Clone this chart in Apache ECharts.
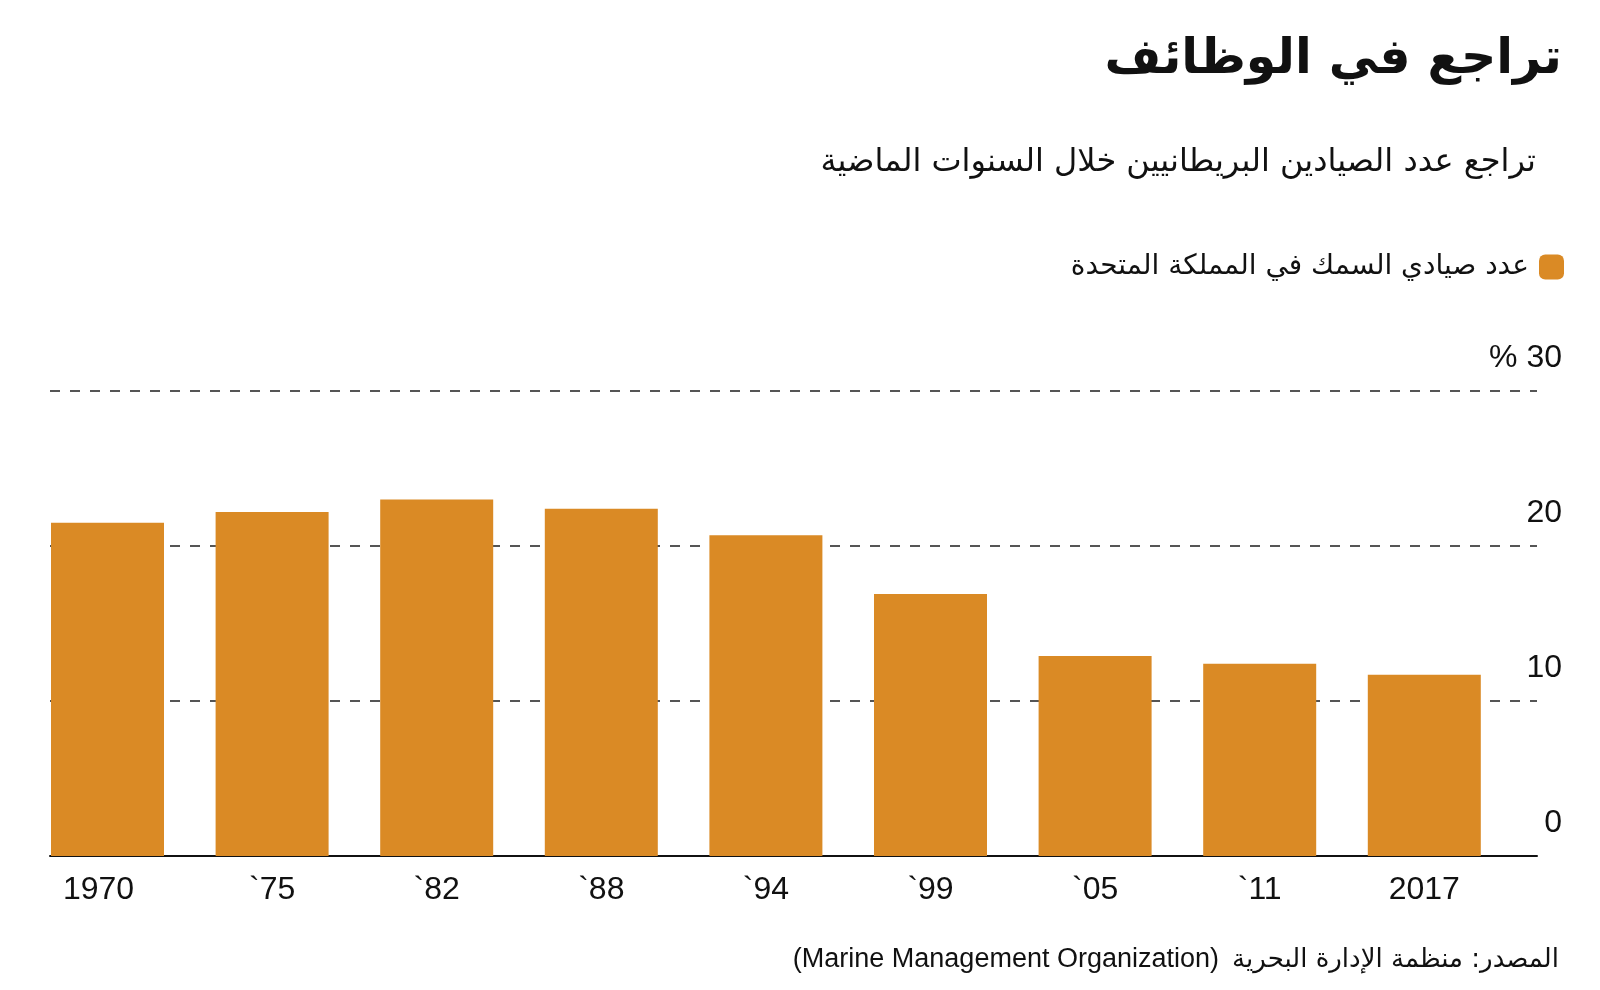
<!DOCTYPE html>
<html>
<head>
<meta charset="utf-8">
<script src="https://cdn.jsdelivr.net/npm/echarts@6/dist/echarts.min.js"></script>
<style>
  html, body { margin: 0; padding: 0; background: #ffffff; }
  #chart { width: 1600px; height: 990px; }
</style>
</head>
<body>
<div id="chart"></div>
<script>
// ---- data ----
const categories = ['1970', '`75', '`82', '`88', '`94', '`99', '`05', '`11', '2017'];
const fishermenShare = [21.5, 22.2, 23.0, 22.4, 20.7, 16.9, 12.9, 12.4, 11.7];
const yTicks = [0, 10, 20, 30];
const yTickLabels = ['0', '10', '20', '% 30'];

const titleText = 'تراجع في الوظائف';
const subtitleText = 'تراجع عدد الصيادين البريطانيين خلال السنوات الماضية';
const seriesName = 'عدد صيادي السمك في المملكة المتحدة';
const sourceArabic = 'المصدر: منظمة الإدارة البحرية';
const sourceEnglish = '(Marine Management Organization)';

const BAR_COLOR = '#DA8A25';
const TEXT_COLOR = '#111111';
const ARABIC_FONT = '"DejaVu Sans", sans-serif';
const LATIN_FONT = '"Liberation Sans", Arial, sans-serif';

const chart = echarts.init(document.getElementById('chart'), null, { renderer: 'canvas' });

const option = {
  backgroundColor: '#ffffff',
  animation: false,
  textStyle: { fontFamily: LATIN_FONT },
  graphic: [
    {
      type: 'text',
      style: {
        text: titleText, x: 1562, y: 60, align: 'right', verticalAlign: 'middle',
        fontFamily: ARABIC_FONT, fontWeight: 'bold', fontSize: 49, fill: TEXT_COLOR
      }
    },
    {
      type: 'text',
      style: {
        text: subtitleText, x: 1536, y: 163, align: 'right', verticalAlign: 'middle',
        fontFamily: ARABIC_FONT, fontSize: 32, fill: TEXT_COLOR
      }
    },
    {
      type: 'text',
      style: {
        text: sourceArabic, x: 1559, y: 960, align: 'right', verticalAlign: 'middle',
        fontFamily: ARABIC_FONT, fontSize: 26, fill: TEXT_COLOR
      }
    },
    {
      type: 'text',
      style: {
        text: sourceEnglish, x: 1219, y: 960, align: 'right', verticalAlign: 'middle',
        fontFamily: LATIN_FONT, fontSize: 27, fill: TEXT_COLOR
      }
    }
  ],
  legend: {
    show: true,
    right: 31,
    top: 248,
    align: 'right',
    itemWidth: 25,
    itemHeight: 25,
    icon: 'roundRect',
    textStyle: {
      fontFamily: ARABIC_FONT, fontSize: 28, color: TEXT_COLOR, padding: [0, 5, 0, 0]
    },
    data: [seriesName]
  },
  grid: [
    { left: 50, right: 63, top: 391, bottom: 134 },
    { left: 25.2, width: 1481.4, top: 391, bottom: 134 }
  ],
  xAxis: [
    {
      gridIndex: 0, type: 'category', data: categories,
      axisLine: { show: true, lineStyle: { color: TEXT_COLOR, width: 2 } },
      axisTick: { show: false }, axisLabel: { show: false }, splitLine: { show: false }
    },
    {
      gridIndex: 1, type: 'category', data: categories,
      axisLine: { show: false }, axisTick: { show: false },
      axisLabel: {
        interval: 0, hideOverlap: false,
        fontFamily: LATIN_FONT, fontSize: 32, color: TEXT_COLOR, margin: 18,
        formatter: function (v, i) {
          return i === 0 ? '{first|' + v + '}' : v;
        },
        rich: {
          first: { fontFamily: LATIN_FONT, fontSize: 32, color: TEXT_COLOR, padding: [0, 18, 0, 0] }
        }
      }
    }
  ],
  yAxis: [
    {
      gridIndex: 0, type: 'value', min: 0, max: 30, interval: 10, position: 'right',
      axisLine: { show: false }, axisTick: { show: false },
      splitLine: { show: true, lineStyle: { type: [10, 10], color: '#555555', width: 2 } },
      axisLabel: {
        fontFamily: LATIN_FONT, fontSize: 32, color: TEXT_COLOR,
        align: 'right', margin: 25, verticalAlign: 'bottom', lineHeight: 66,
        formatter: function (v) {
          const i = yTicks.indexOf(v);
          return i >= 0 ? yTickLabels[i] : String(v);
        }
      }
    },
    {
      gridIndex: 1, type: 'value', min: 0, max: 30, interval: 10, show: false,
      splitLine: { show: false }
    }
  ],
  series: [
    {
      name: seriesName,
      type: 'bar',
      xAxisIndex: 1,
      yAxisIndex: 1,
      data: fishermenShare,
      barWidth: 113,
      itemStyle: { color: BAR_COLOR },
      z: 3
    }
  ]
};

chart.setOption(option);
</script>
</body>
</html>
